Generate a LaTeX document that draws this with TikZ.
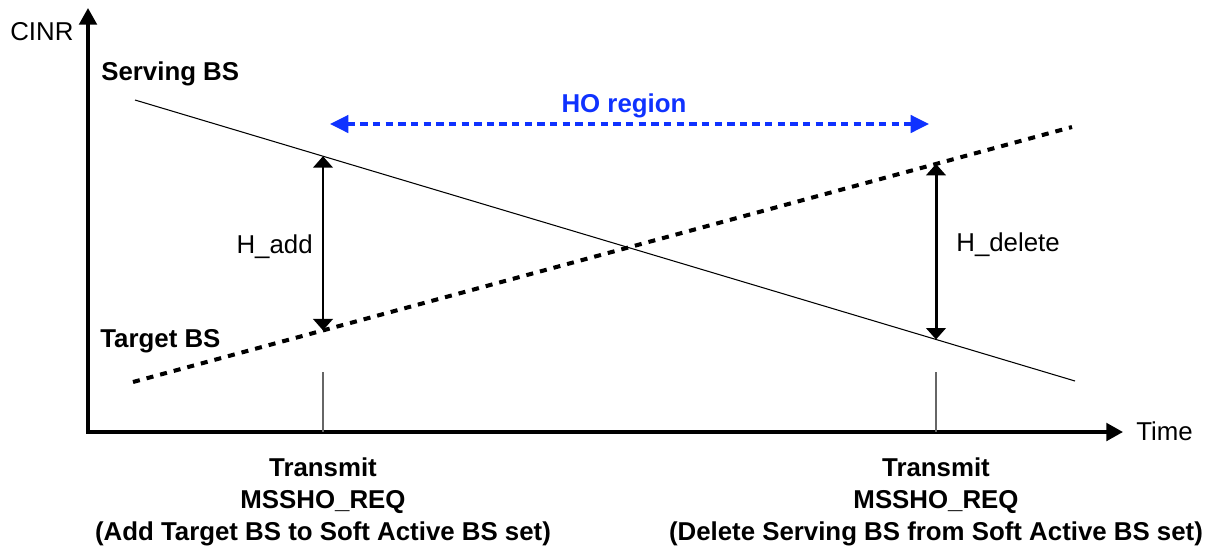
\documentclass[tikz,border=0pt]{standalone}
\usepackage{fontspec}
\setmainfont{Liberation Sans}
\usepackage{tikz}
\usetikzlibrary{arrows.meta,calc,positioning}

\definecolor{hoblue}{RGB}{15,50,255}

\begin{document}
\begin{tikzpicture}[x=0.02cm,y=-0.02cm,
                    axes/.style={line width=2pt,line join=miter,
                      {Triangle[length=9.5pt,width=10pt]}-{Triangle[length=9.5pt,width=10pt]}},
                    serving/.style={line width=0.6pt},
                    target/.style={line width=2.3pt,dash pattern=on 4pt off 4pt},
                    gap/.style={line width=1.7pt,
                      {Triangle[length=6.5pt,width=11pt]}-{Triangle[length=6.5pt,width=11pt]}},
                    horegion/.style={hoblue,line width=1.8pt,dash pattern=on 4.2pt off 3pt,
                      {Triangle[length=10.5pt,width=10pt]}-{Triangle[length=10.5pt,width=10pt]}},
                    tick/.style={black!60,line width=0.6pt},
                    txt/.style={inner sep=0pt,font=\fontsize{14.7}{18}\selectfont},
                    bold/.style={inner sep=0pt,font=\fontsize{14.7}{18.2}\selectfont\bfseries}]

  \useasboundingbox (0,0) rectangle (1211,552);

  % axes
  \coordinate (ytop) at (88,8);
  \coordinate (o)    at (88,432);
  \coordinate (xend) at (1123,432);
  \draw[axes] (ytop) -- (o) -- (xend);
  \node[txt,anchor=base west] (cinr) at (10,40)   {CINR};
  \node[txt,anchor=base west] (time) at (1136,440) {Time};

  % CINR curves
  \coordinate (s1) at (135,100);
  \coordinate (s2) at (1075,381);
  \coordinate (t1) at (133,382);
  \coordinate (t2) at (1072,127);
  \draw[serving] (s1) -- (s2);
  \draw[target]  (t1) -- (t2);
  \node[bold,anchor=base west] (serv) at (101,80)  {Serving BS};
  \node[bold,anchor=base west] (targ) at (100,347) {Target BS};

  % hysteresis margins
  \coordinate (sa) at (323,156.2);
  \coordinate (ta) at (323,330.4);
  \coordinate (sd) at (936,339.5);
  \coordinate (td) at (936,163.9);
  \draw[gap] (sa) -- (ta);
  \draw[gap] (td) -- (sd);
  \node[txt,anchor=base east] (hadd) at (313,253) {H\_add};
  \node[txt,anchor=base west] (hdel) at (956,251) {H\_delete};

  % HO region
  \coordinate (ho1) at (330,124);
  \coordinate (ho2) at (929,124);
  \draw[horegion] (ho1) -- (ho2);
  \node[bold,text=hoblue,anchor=base] (ho) at (624,112) {HO region};

  % transmit instants
  \coordinate (m1) at (323,372);
  \coordinate (m2) at (936,372);
  \draw[tick] (m1) -- (m1 |- o);
  \draw[tick] (m2) -- (m2 |- o);
  \node[bold,align=center,anchor=base] (req1) at (323,540)
    {Transmit\\MSSHO\_REQ\\(Add Target BS to Soft Active BS set)};
  \node[bold,align=center,anchor=base] (req2) at (936,540)
    {Transmit\\MSSHO\_REQ\\(Delete Serving BS from Soft Active BS set)};
\end{tikzpicture}
\end{document}
